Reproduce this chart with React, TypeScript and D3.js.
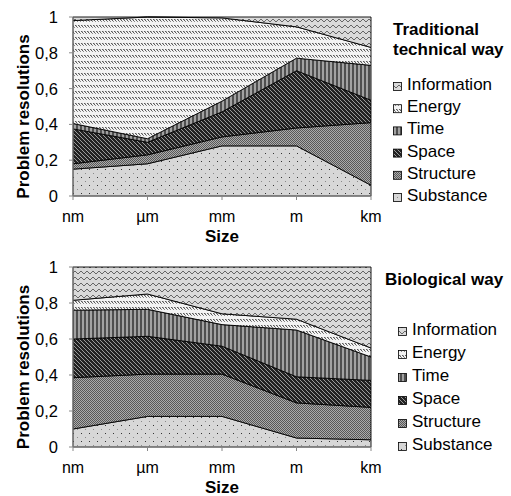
import React from "react";
import * as d3 from "d3";

const categories = ["nm", "µm", "mm", "m", "km"];
const seriesNames = ["Substance", "Structure", "Space", "Time", "Energy", "Information"];
const yTicks = [0, 0.2, 0.4, 0.6, 0.8, 1];
const yTickLabels = ["0", "0,2", "0,4", "0,6", "0,8", "1"];

// Traditional technical way
const techSubstance = [0.15, 0.18, 0.28, 0.28, 0.06];
const techStructure = [0.03, 0.05, 0.05, 0.10, 0.35];
const techSpace = [0.195, 0.07, 0.14, 0.32, 0.125];
const techTime = [0.03, 0.02, 0.06, 0.07, 0.195];
const techEnergy = [0.575, 0.68, 0.465, 0.175, 0.10];
const techInformation = [0.02, 0.0, 0.005, 0.055, 0.17];

// Biological way
const bioSubstance = [0.10, 0.17, 0.17, 0.05, 0.04];
const bioStructure = [0.285, 0.235, 0.235, 0.195, 0.18];
const bioSpace = [0.215, 0.21, 0.155, 0.145, 0.15];
const bioTime = [0.16, 0.15, 0.12, 0.26, 0.13];
const bioEnergy = [0.055, 0.085, 0.06, 0.06, 0.05];
const bioInformation = [0.185, 0.15, 0.26, 0.29, 0.45];

const FONT = "'Liberation Sans', Arial, Helvetica, sans-serif";
const patternIds: Record<string, string> = {
  Substance: "pSub",
  Structure: "pStr",
  Space: "pSpace",
  Time: "pTime",
  Energy: "pEnergy",
  Information: "pInfo",
};

function buildRows(vals: number[][]) {
  return categories.map((c, i) => {
    const row: any = { cat: c };
    seriesNames.forEach((s, j) => (row[s] = vals[j][i]));
    return row;
  });
}

function Patterns() {
  return (
    <defs>
      <pattern id="pSub" width={8} height={8} patternUnits="userSpaceOnUse">
        <rect width={8} height={8} fill="#d7d7d7" />
        <rect x={1} y={1} width={1} height={1} fill="#333" />
        <rect x={5} y={5} width={1} height={1} fill="#8a8a8a" />
      </pattern>
      <pattern id="pStr" width={2} height={2} patternUnits="userSpaceOnUse">
        <rect width={2} height={2} fill="#ababab" />
        <rect x={0} y={0} width={1} height={1} fill="#585858" />
        <rect x={1} y={1} width={1} height={1} fill="#585858" />
      </pattern>
      <pattern id="pSpace" width={4} height={4} patternUnits="userSpaceOnUse">
        <rect width={4} height={4} fill="#222" />
        <path d="M-1,-1 L5,5 M-1,3 L1,5 M3,-1 L5,1" stroke="#9a9a9a" strokeWidth={1} />
      </pattern>
      <pattern id="pTime" width={4} height={4} patternUnits="userSpaceOnUse">
        <rect width={4} height={4} fill="#a2a2a2" />
        <rect x={0} y={0} width={2} height={4} fill="#4f4f4f" />
      </pattern>
      <pattern id="pEnergy" width={3} height={6} patternUnits="userSpaceOnUse">
        <rect width={3} height={6} fill="#f3f3f3" />
        <rect x={0} y={1} width={1} height={1} fill="#5a5a5a" />
        <rect x={1} y={2} width={1} height={1} fill="#5a5a5a" />
        <rect x={2} y={3} width={1} height={1} fill="#8a8a8a" />
        <rect x={1} y={1} width={1} height={1} fill="#b0b0b0" />
      </pattern>
      <pattern id="pInfo" width={6} height={6} patternUnits="userSpaceOnUse">
        <rect width={6} height={6} fill="#dadada" />
        <path d="M0,4 L3,1 L6,4" stroke="#666" strokeWidth={1} fill="none" />
      </pattern>
    </defs>
  );
}

type PanelProps = {
  values: number[][];
  top: number;
  bottom: number;
  titleLines: string[];
  titleX: number;
  titleBaselines: number[];
  legendMarkerX: number;
  legendTextX: number;
  legendTop: number;
  legendStep: number;
};

function Panel(p: PanelProps) {
  const x = d3.scalePoint<string>().domain(categories).range([73, 371]).padding(0);
  const y = d3.scaleLinear().domain([0, 1]).range([p.bottom, p.top]);
  const rows = buildRows(p.values);
  const stack = d3.stack<any>().keys(seriesNames);
  const layers = stack(rows);
  const area = d3
    .area<any>()
    .x((d: any) => x(d.data.cat) as number)
    .y0((d: any) => y(d[0]))
    .y1((d: any) => y(d[1]));
  const legendItems = [...seriesNames].reverse();
  return (
    <g>
      {layers.map((layer) => (
        <path
          key={layer.key}
          d={area(layer) || ""}
          fill={`url(#${patternIds[layer.key]})`}
          stroke="#000"
          strokeWidth={0.9}
          strokeLinejoin="round"
        />
      ))}
      <line x1={73} x2={73} y1={p.top} y2={p.bottom} stroke="#888" strokeWidth={1} />
      <line x1={73} x2={371} y1={p.bottom} y2={p.bottom} stroke="#888" strokeWidth={1} />
      {yTicks.map((t, i) => (
        <g key={t}>
          <line x1={69} x2={73} y1={y(t)} y2={y(t)} stroke="#888" />
          <text
            x={58}
            y={y(t) + 6}
            textAnchor="end"
            fontFamily={FONT}
            fontSize={16.5}
            fill="#000"
          >
            {yTickLabels[i]}
          </text>
        </g>
      ))}
      {categories.map((c) => (
        <g key={c}>
          <line x1={x(c)} x2={x(c)} y1={p.bottom} y2={p.bottom + 4} stroke="#888" />
          <text
            x={x(c)}
            y={p.bottom + 26}
            textAnchor="middle"
            fontFamily={FONT}
            fontSize={16}
            fill="#000"
          >
            {c}
          </text>
        </g>
      ))}
      <text
        x={222}
        y={p.bottom + 46}
        textAnchor="middle"
        fontFamily={FONT}
        fontSize={17}
        fontWeight="bold"
      >
        Size
      </text>
      <text
        transform={`translate(29,${(p.top + p.bottom) / 2 + 10}) rotate(-90)`}
        textAnchor="middle"
        fontFamily={FONT}
        fontSize={17}
        fontWeight="bold"
      >
        Problem resolutions
      </text>
      {p.titleLines.map((t, i) => (
        <text
          key={t}
          x={p.titleX}
          y={p.titleBaselines[i]}
          fontFamily={FONT}
          fontSize={17}
          fontWeight="bold"
        >
          {t}
        </text>
      ))}
      {legendItems.map((s, i) => {
        const yy = p.legendTop + i * p.legendStep;
        return (
          <g key={s}>
            <rect
              x={p.legendMarkerX + 0.5}
              y={yy + 0.5}
              width={8}
              height={8}
              fill={`url(#${patternIds[s]})`}
              stroke="#000"
              strokeWidth={0.8}
            />
            <text x={p.legendTextX} y={yy + 8} fontFamily={FONT} fontSize={17}>
              {s}
            </text>
          </g>
        );
      })}
    </g>
  );
}

export default function App() {
  return (
    <svg
      width={511}
      height={496}
      style={{ position: "absolute", left: 0, top: 0, background: "#fff" }}
    >
      <Patterns />
      <rect width={511} height={496} fill="#fff" />
      <Panel
        values={[techSubstance, techStructure, techSpace, techTime, techEnergy, techInformation]}
        top={17}
        bottom={196}
        titleLines={["Traditional", "technical way"]}
        titleX={393}
        titleBaselines={[35, 55]}
        legendMarkerX={393}
        legendTextX={407}
        legendTop={82}
        legendStep={22.2}
      />
      <Panel
        values={[bioSubstance, bioStructure, bioSpace, bioTime, bioEnergy, bioInformation]}
        top={267}
        bottom={447}
        titleLines={["Biological way"]}
        titleX={385}
        titleBaselines={[285]}
        legendMarkerX={398}
        legendTextX={412}
        legendTop={327}
        legendStep={23}
      />
    </svg>
  );
}
